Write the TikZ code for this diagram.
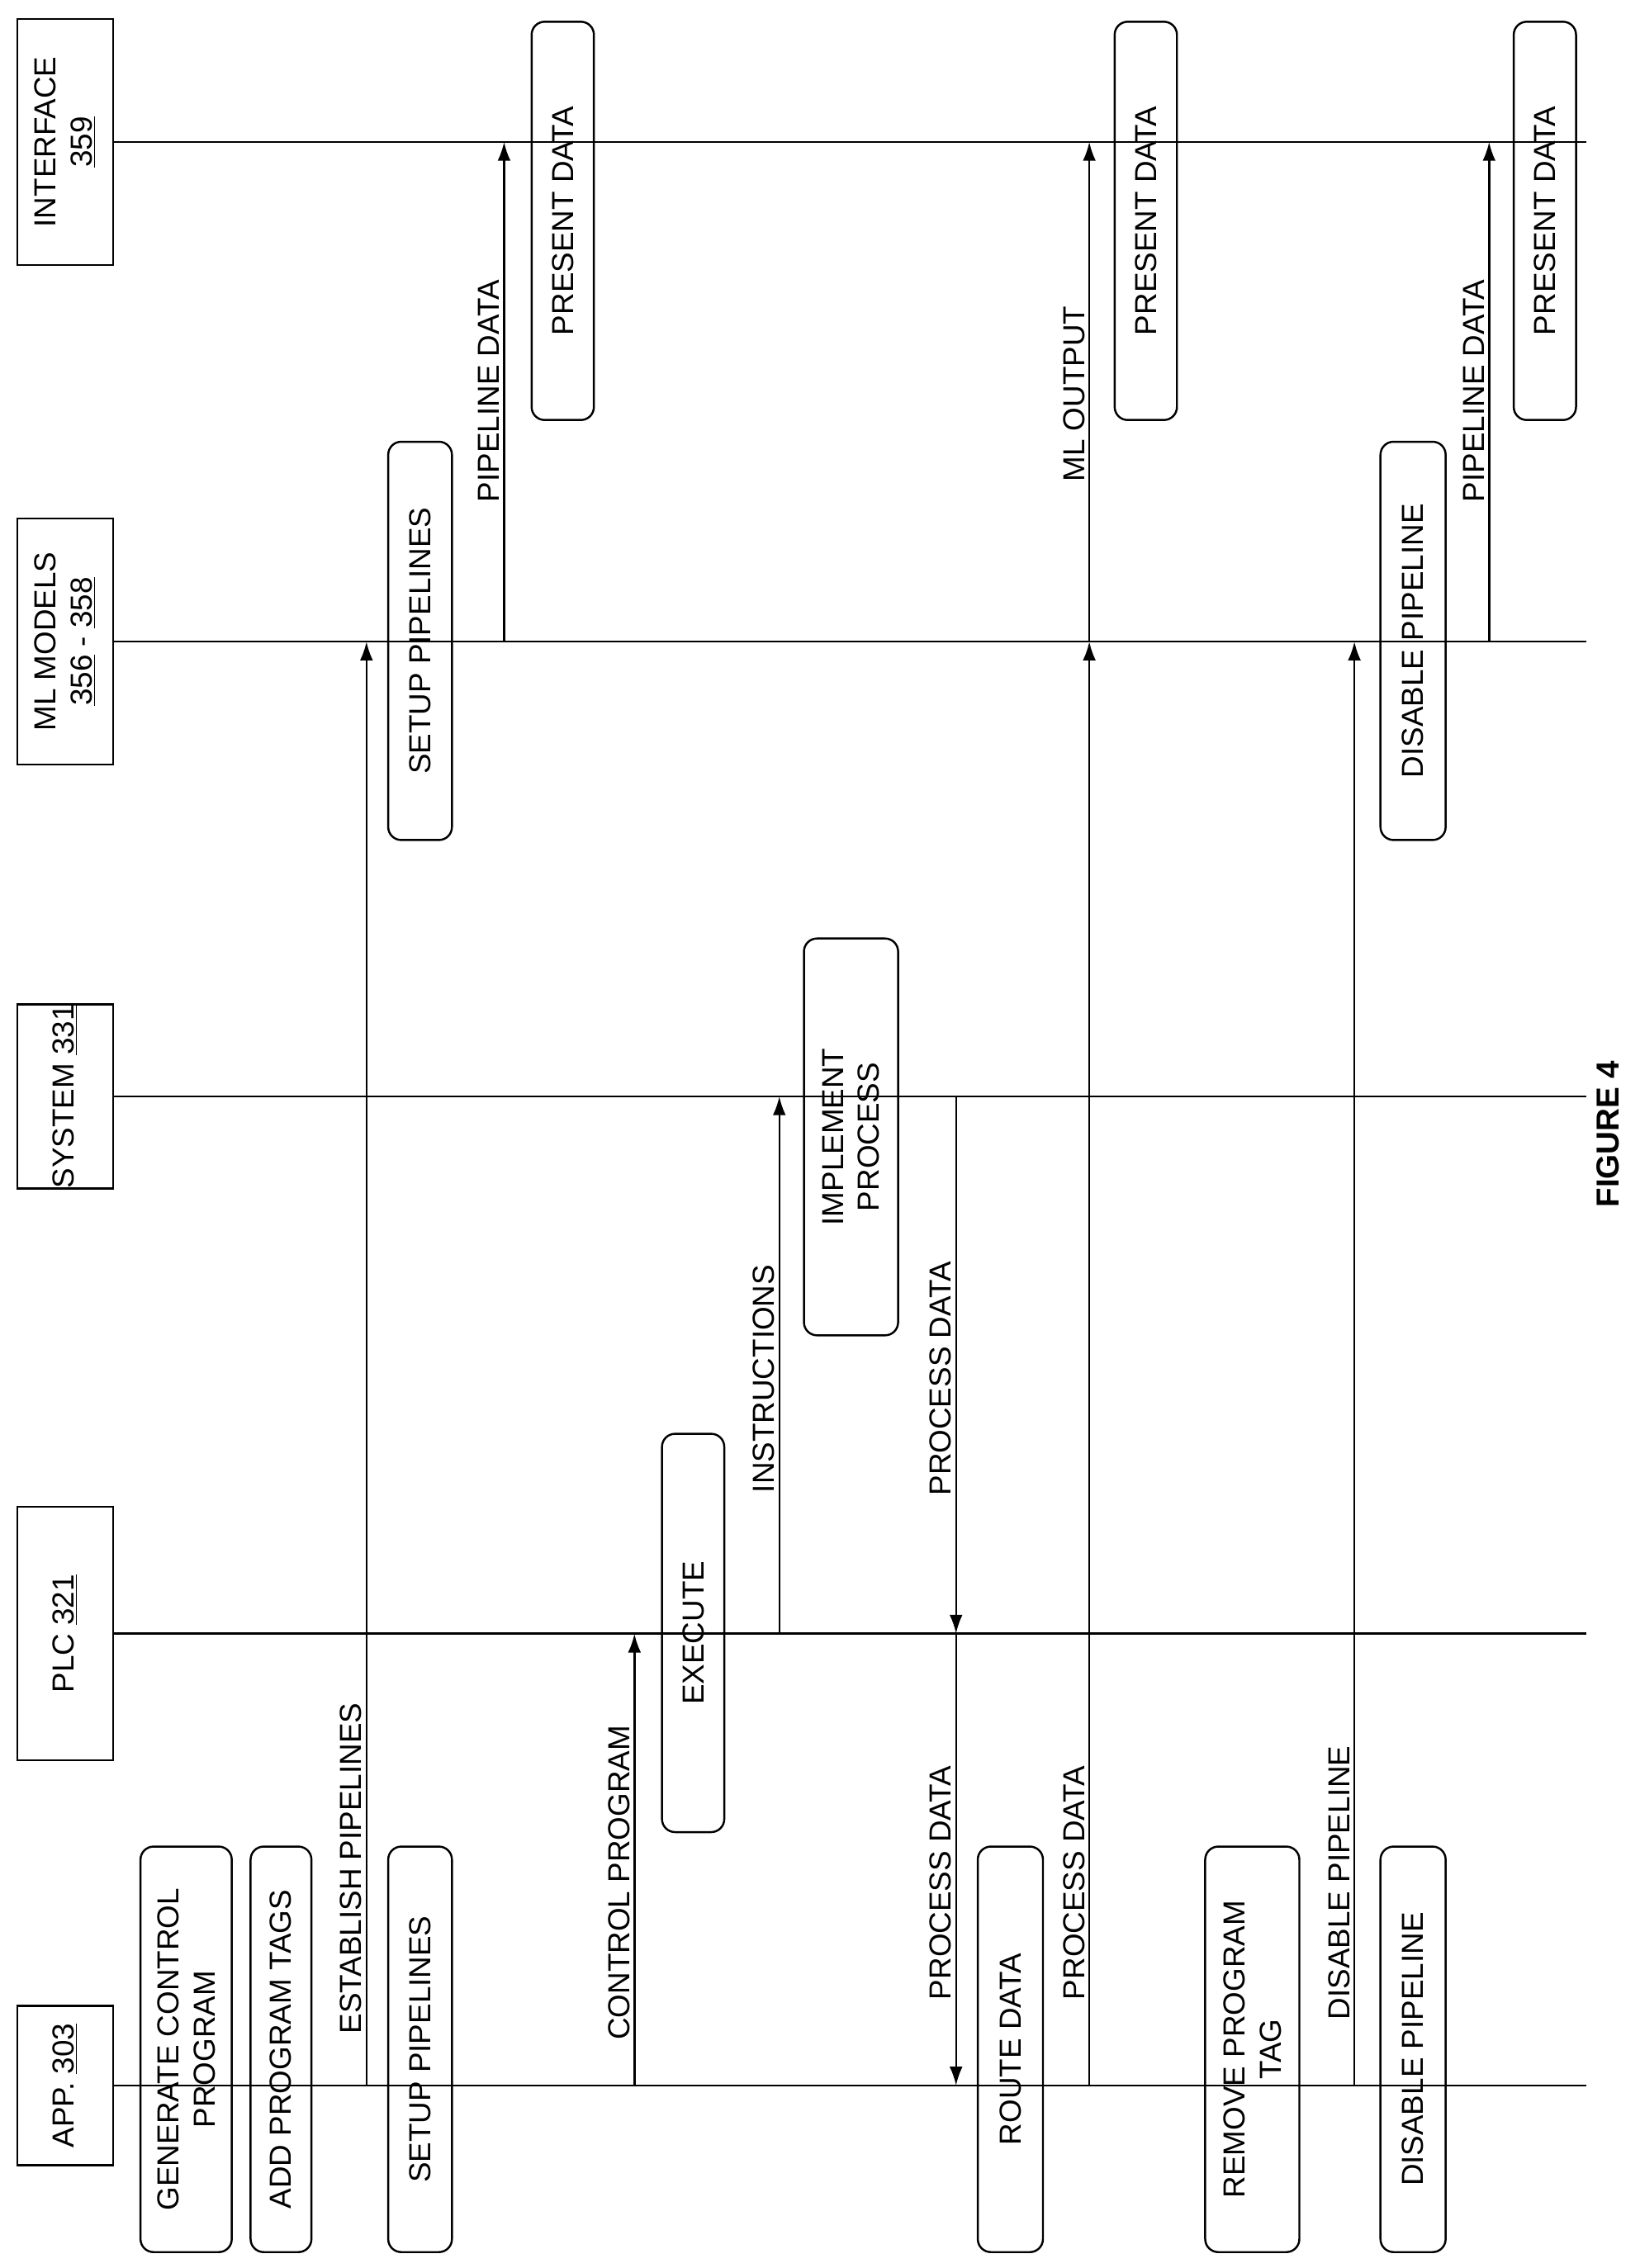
\documentclass[tikz,border=0pt]{standalone}
\usepackage{fontspec}
\setmainfont{Liberation Sans}
\usetikzlibrary{arrows.meta}
\begin{document}
\begin{tikzpicture}[x=1pt,y=-1pt,
  lw/.style={line width=1.4pt},
  hdr/.style={draw,lw,rotate=90,align=center,inner sep=0pt,font=\fontsize{21}{25}\selectfont},
  act/.style={draw,lw,rounded corners=9pt,rotate=90,align=center,inner sep=0pt,font=\fontsize{21}{25}\selectfont},
  lbl/.style={rotate=90,anchor=south,inner sep=3pt,font=\fontsize{21}{25}\selectfont},
  msg/.style={lw,-{Latex[length=13pt,width=9pt]}}]
\useasboundingbox (0,0) rectangle (1132,1566);
% headers
\node[hdr,minimum width=110pt,minimum height=66pt] (app) at (45,1440) {APP. \underline{303}};
\node[hdr,minimum width=175pt,minimum height=66pt] (plc) at (45,1128) {PLC \underline{321}};
\node[hdr,minimum width=115pt,minimum height=66pt] (sys) at (45,757) {SYSTEM \underline{331}};
\node[hdr,minimum width=170pt,minimum height=66pt] (ml) at (45,443) {ML MODELS\\\underline{356} - \underline{358}};
\node[hdr,minimum width=170pt,minimum height=66pt] (ifc) at (45,98) {INTERFACE\\\underline{359}};
% lifelines
\coordinate (appE) at (1095,1440);\coordinate (plcE) at (1095,1128);
\coordinate (sysE) at (1095,757);\coordinate (mlE) at (1095,443);\coordinate (ifcE) at (1095,98);
\draw[lw] (app.south) -- (appE);
\draw[lw] (plc.south) -- (plcE);
\draw[lw] (sys.south) -- (sysE);
\draw[lw] (ml.south) -- (mlE);
\draw[lw] (ifc.south) -- (ifcE);
% activation boxes
\node[act,minimum width=280pt,minimum height=63pt] (gen) at (128.5,1415) {GENERATE CONTROL\\PROGRAM};
\node[act,minimum width=280pt,minimum height=42pt] (add) at (194,1415) {ADD PROGRAM TAGS};
\node[act,minimum width=280pt,minimum height=44pt] (sua) at (290,1415) {SETUP PIPELINES};
\node[act,minimum width=280pt,minimum height=45pt] (route) at (697.5,1415) {ROUTE DATA};
\node[act,minimum width=280pt,minimum height=65pt] (rem) at (864.5,1415) {REMOVE PROGRAM\\TAG};
\node[act,minimum width=280pt,minimum height=45pt] (dpa) at (975.5,1415) {DISABLE PIPELINE};
\node[act,minimum width=275pt,minimum height=43pt] (exe) at (478.5,1127.5) {EXECUTE};
\node[act,minimum width=274pt,minimum height=65pt] (imp) at (587.5,785) {IMPLEMENT\\PROCESS};
\node[act,minimum width=275pt,minimum height=44pt] (sum) at (290,442.5) {SETUP PIPELINES};
\node[act,minimum width=275pt,minimum height=45pt] (dpm) at (975.5,442.5) {DISABLE PIPELINE};
\node[act,minimum width=275pt,minimum height=43pt] (pd1) at (388.5,152.5) {PRESENT DATA};
\node[act,minimum width=275pt,minimum height=43pt] (pd2) at (791,152.5) {PRESENT DATA};
\node[act,minimum width=275pt,minimum height=43pt] (pd3) at (1066.5,152.5) {PRESENT DATA};
% messages
\draw[msg] (253,1440) -- (253,443);
\node[lbl] (l1) at (253,1290) {ESTABLISH PIPELINES};
\draw[msg] (438,1440) -- (438,1128);
\node[lbl] (l2) at (438,1300) {CONTROL PROGRAM};
\draw[msg] (538,1128) -- (538,757);
\node[lbl] (l3) at (538,952) {INSTRUCTIONS};
\draw[msg] (660,757) -- (660,1128);
\node[lbl] (l4) at (660,952) {PROCESS DATA};
\draw[msg] (660,1128) -- (660,1440);
\node[lbl] (l5) at (660,1300) {PROCESS DATA};
\draw[msg] (752,1440) -- (752,443);
\node[lbl] (l6) at (752,1300) {PROCESS DATA};
\draw[msg] (752,443) -- (752,98);
\node[lbl] (l7) at (752,272) {ML OUTPUT};
\draw[msg] (935,1440) -- (935,443);
\node[lbl] (l8) at (935,1300) {DISABLE PIPELINE};
\draw[msg] (348,443) -- (348,98);
\node[lbl] (l9) at (348,270) {PIPELINE DATA};
\draw[msg] (1028,443) -- (1028,98);
\node[lbl] (l10) at (1028,270) {PIPELINE DATA};
\node[rotate=90,font=\fontsize{22}{26}\selectfont\bfseries] (fig) at (1110,783) {FIGURE 4};
\end{tikzpicture}
\end{document}
